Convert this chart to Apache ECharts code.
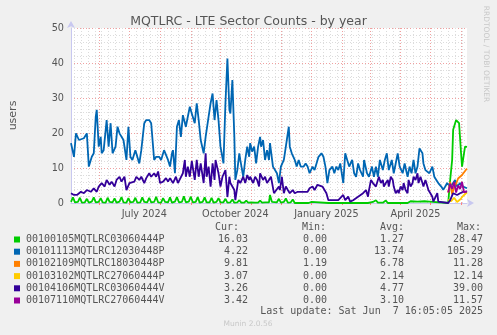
<!DOCTYPE html>
<html><head><meta charset="utf-8">
<script src="https://cdn.jsdelivr.net/npm/echarts@6/dist/echarts.min.js"></script>
<style>html,body{margin:0;padding:0;background:#f0f0f0;}#c{width:497px;height:335px;}</style>
</head><body><div id="c"></div>
<script>
// ---- data (x = day offset from 2024-05-03, y = users) ----
const startDate = [2024, 4, 3]; // 2024-05-03
const dayCount = 401;
const tickLabels = ['July 2024', 'October 2024', 'January 2025', 'April 2025'];
const tickLabelDates = ['2024-07-16', '2024-10-16', '2025-01-16', '2025-04-16'];
const seriesNames = ['00100105MQTLRC03060444P','00101113MQTLRC12030448P','00102109MQTLRC18030448P','00103102MQTLRC27060444P','00104106MQTLRC03060444V','00107110MQTLRC27060444V'];
const seriesColors = ['#00cc00','#0066b3','#ff8000','#ffcc00','#330099','#990099'];
const curVals = ['16.03','4.22','9.81','3.07','3.26','3.42'];
const minVals = ['0.00','0.00','1.19','0.00','0.00','0.00'];
const avgVals = ['1.27','13.74','6.78','2.14','4.77','3.10'];
const maxVals = ['28.47','105.29','11.28','12.14','39.00','11.57'];

const green = [[0,0.3],[2,1.6],[4,0.2],[7,0.3],[9,1.5],[11,0.1],[14,0.2],[16,1.2],[18,0.1],[21,0.4],[23,1.6],[25,0.2],[28,0.3],[30,1.4],[32,0.2],[35,0.1],[37,1.5],[39,0.3],[42,0.2],[44,1.3],[46,0.1],[49,0.4],[51,1.7],[53,0.2],[56,0.1],[58,1.4],[60,0.2],[63,0.3],[65,1.5],[67,0.1],[70,0.2],[72,1.6],[74,0.3],[77,0.2],[79,1.5],[81,0.2],[84,0.3],[86,1.8],[88,0.2],[91,0.1],[93,1.4],[95,0.3],[98,0.2],[100,1.6],[102,0.1],[105,0.4],[107,1.7],[109,0.2],[112,0.3],[114,1.9],[116,0.2],[119,0.4],[121,1.8],[123,0.2],[126,0.3],[128,1.7],[130,0.1],[133,0.3],[135,1.6],[137,0.2],[140,0.2],[142,1.5],[144,0.1],[147,0.3],[149,1.4],[151,0.2],[154,0.2],[156,1.2],[158,0.1],[161,0.2],[163,1.0],[165,0.1],[168,0.2],[170,0.8],[172,0.1],[175,0.1],[177,0.7],[179,0.1],[182,0.2],[184,0.6],[186,0.1],[189,0.1],[191,0.7],[193,0.1],[196,0.2],[198,0.6],[200,0.2],[201,2.3],[203,0.3],[205,0],[208,0.2],[210,1.2],[212,0.1],[215,0.3],[217,1.3],[219,0.1],[222,0.2],[224,1.0],[226,0],[240,0],[243,0.3],[245,0],[260,0],[262,0.4],[264,0],[300,0],[305,0.3],[308,0.8],[310,0.1],[312,0.6],[315,0.1],[318,0.7],[320,0],[340,0],[343,0.5],[345,0],[350,0.4],[352,0],[357,0.5],[359,0],[362,0.4],[364,0],[381,0],[383,6.6],[385,12.3],[386,20.9],[389,23.7],[391,23.9],[392,22.8],[394,14.2],[395,10.4],[396,12.3],[398,16.1],[400,16.03]];

const blue = [[0,17.1],[3,13.2],[5,19.9],[8,18],[13,18.5],[16,19.9],[18,10.4],[21,13.2],[23,14.2],[25,24.7],[26,26.6],[28,16.1],[30,18.9],[31,14.2],[33,15.1],[36,23.7],[38,16.1],[40,22.8],[42,14.2],[45,16.1],[47,21.8],[49,19.9],[51,19.9],[53,18],[56,12.3],[58,21.8],[60,13.2],[62,12.3],[65,15.1],[67,15.1],[69,11.3],[71,15.1],[74,22.8],[76,23.7],[79,23.7],[81,22.8],[84,12.3],[86,13.2],[89,13.2],[91,12.3],[94,15.1],[96,15.6],[98,12.3],[100,10.4],[102,14.2],[103,15.1],[105,8.5],[107,21.8],[109,23.7],[111,18.9],[113,25.1],[116,21.8],[120,27.5],[122,25.6],[125,22.8],[127,28.5],[129,23.7],[131,18],[134,14.2],[136,18.9],[139,24.7],[141,28.5],[143,31.3],[145,23.7],[147,29.4],[149,23.7],[151,16.1],[154,11.3],[156,28.5],[158,41.3],[160,26.6],[161,25.6],[163,35.1],[165,18.9],[166,6.6],[168,9.4],[170,14.2],[171,12.3],[174,7.5],[176,12.3],[178,16.1],[180,13.2],[181,17.1],[183,14.7],[185,16.1],[187,11.3],[189,16.1],[191,18.9],[192,16.1],[194,18],[196,12.3],[198,15.1],[200,12.3],[201,17.1],[204,10.4],[206,10.4],[208,8.5],[210,5.7],[212,10.4],[215,12.3],[216,14.2],[218,18],[220,21.8],[221,16.1],[223,14.2],[225,14.2],[226,12.3],[228,10.4],[230,12.3],[232,10.4],[235,10.4],[237,11.3],[239,10.4],[241,8.5],[244,10.4],[246,9.4],[248,11.3],[250,13.2],[253,14.2],[255,13.2],[257,10.4],[259,5.7],[261,9.4],[264,10.4],[266,8.5],[268,10.4],[270,9.4],[272,11.3],[275,5.7],[277,14.2],[279,12.3],[281,10.4],[284,12.3],[286,8.5],[288,7.5],[290,11.3],[292,9.4],[295,7.5],[296,12.3],[299,8.5],[301,7.5],[304,10.4],[306,7.5],[308,10.4],[310,7.5],[312,12.3],[315,9.4],[317,12.3],[319,14.2],[321,9.4],[324,12.3],[326,8.5],[328,11.3],[330,14.2],[332,10.4],[335,8.5],[337,11.3],[340,7.5],[342,10.4],[344,8.5],[346,12.3],[348,8.5],[350,10.4],[352,15.6],[355,14.2],[356,11.3],[358,9.4],[360,9.4],[362,8.5],[365,10.4],[367,7.5],[369,6.6],[371,5.7],[374,4.7],[376,3.8],[378,4.7],[380,5.7],[383,4.7],[386,5.7],[388,6.6],[390,4.7],[393,5.7],[396,4.7],[398,5.2],[400,4.22]];

const orange = [[381,3.0],[383,6.0],[385,2.5],[387,4.5],[389,5.5],[391,7.0],[393,7.5],[395,8.0],[397,8.5],[399,9.5],[400,9.81]];

const yellow = [[381,1.0],[384,0.5],[387,1.5],[390,0.3],[393,1.0],[396,2.0],[400,3.07]];

const purple = [[0,2.8],[3,2.3],[6,2.3],[10,3.2],[13,2.8],[16,3.7],[20,3.2],[23,4.2],[26,3.2],[28,4.7],[31,5.7],[34,4.7],[36,6.6],[39,5.2],[41,6.1],[44,4.7],[46,6.6],[49,7.5],[51,6.1],[54,7.5],[56,3.7],[59,5.7],[61,5.2],[64,6.1],[66,7.5],[69,6.6],[71,7.5],[74,5.7],[76,7.1],[79,8.5],[81,7.5],[84,8.5],[86,7.5],[88,9],[90,5.7],[93,6.1],[96,7.1],[98,6.1],[100,7.1],[103,5.7],[106,7.5],[108,5.7],[110,5.7],[113,8.5],[115,12.3],[116,7.5],[118,10.4],[120,7.5],[122,12],[125,6.6],[127,12.3],[129,7.5],[131,11.3],[134,5.7],[136,14.2],[137,7.5],[139,10.4],[141,4.7],[143,11.3],[145,6.6],[146,12.3],[149,8.5],[151,4.7],[153,7.5],[155,7.5],[156,9.4],[158,1.7],[160,7.5],[161,5.7],[163,5.7],[165,3.7],[166,0.8],[169,6.6],[171,5.7],[174,7.5],[176,5.7],[178,8],[180,6.6],[181,7.5],[184,5.7],[186,7.5],[188,6.6],[190,4.7],[191,8.5],[194,6.6],[196,7.5],[198,5.7],[200,6.6],[202,7.5],[205,2.8],[207,2.8],[210,4.7],[211,3.7],[213,7.5],[215,2.8],[217,4.7],[219,3.7],[221,2.8],[224,3.7],[226,2.8],[229,3.2],[231,2.8],[234,3.2],[236,3.7],[239,3.2],[241,4.2],[244,4.7],[246,3.7],[249,5.2],[251,5.2],[254,4.7],[256,4.7],[258,2.8],[260,0.8],[262,0.4],[265,0.8],[267,1.3],[270,0.8],[272,0.8],[275,2.3],[277,0.8],[280,1.8],[282,0.4],[285,0.8],[287,0.4],[290,1.8],[292,1.3],[295,2.8],[296,3.2],[298,3.7],[300,1.8],[301,3.7],[303,6.6],[305,5.7],[306,6.1],[308,4.7],[310,6.6],[311,7.5],[313,5.7],[315,6.6],[316,4.7],[318,5.7],[320,6.6],[321,4.7],[323,7.5],[325,6.6],[326,4.7],[328,2.8],[330,3.7],[331,2.8],[333,4.7],[335,3.7],[336,5.7],[338,3.7],[340,2.8],[341,6.6],[343,4.7],[345,5.7],[346,7.5],[348,6.6],[350,8.5],[351,5.7],[353,7.5],[355,5.7],[356,4.7],[358,6.6],[360,4.7],[361,3.7],[363,2.8],[365,1.8],[366,0.4],[368,0.8],[370,2.8],[371,0.4],[373,0],[381,0],[383,0.8],[386,2.8],[390,2.3],[393,2.8],[396,3.2],[400,3.26]];

const magenta = [[381,3.0],[383,5.5],[385,4.0],[387,6.0],[389,3.0],[391,5.0],[393,4.0],[395,6.0],[397,3.0],[400,3.42]];

// ---- build categories (one per day) ----
function pad(n){return n<10?'0'+n:''+n;}
const dates = [];
for (let i = 0; i < dayCount; i++) {
  const d = new Date(Date.UTC(startDate[0], startDate[1], startDate[2] + i));
  dates.push(d.getUTCFullYear() + '-' + pad(d.getUTCMonth()+1) + '-' + pad(d.getUTCDate()));
}
const labelOf = {};
tickLabelDates.forEach((d, i) => { labelOf[d] = tickLabels[i]; });
const isMonthStart = (i, v) => v.slice(8) === '01';
const isWeek = (i, v) => new Date(v + 'T00:00:00Z').getUTCDay() === 1;

const allData = [green, blue, orange, yellow, purple, magenta];
const chart = echarts.init(document.getElementById('c'), null, {renderer: 'canvas'});

const font = 'DejaVu Sans';
const mono = 'DejaVu Sans Mono';
const txt = '#555555';
const gleft = 67, gtop = 28, gw = 400, gh = 175;

const graphics = [];
// vertical watermark
graphics.push({type:'text', x:486, y:54, rotation:-Math.PI/2,
  style:{text:'RRDTOOL / TOBI OETIKER', font:'7.5px ' + font, fill:'#c8c8c8', textAlign:'center', textVerticalAlign:'middle'}});
// legend header
const colEnds = [239, 326, 404, 481];
['Cur:','Min:','Avg:','Max:'].forEach((h, i) => {
  graphics.push({type:'text', x:colEnds[i], y:227, style:{text:h, font:'10px ' + mono, fill:txt, textAlign:'right', textVerticalAlign:'middle'}});
});
const rowY = [239.5, 251.7, 263.9, 276.1, 288.3, 300.5];
seriesNames.forEach((n, i) => {
  const y = rowY[i];
  graphics.push({type:'rect', shape:{x:14, y:y-3, width:6, height:6}, style:{fill:seriesColors[i]}});
  graphics.push({type:'text', x:26, y:y, style:{text:n, font:'10px ' + mono, fill:txt, textVerticalAlign:'middle'}});
  [curVals[i], minVals[i], avgVals[i], maxVals[i]].forEach((v, j) => {
    const endX = [248, 327, 404, 483][j];
    graphics.push({type:'text', x:endX, y:y, style:{text:v, font:'10px ' + mono, fill:txt, textAlign:'right', textVerticalAlign:'middle'}});
  });
});
graphics.push({type:'text', x:483, y:311.7, style:{text:'Last update: Sat Jun  7 16:05:05 2025', font:'10px ' + mono, fill:txt, textAlign:'right', textVerticalAlign:'middle'}});
graphics.push({type:'text', x:248, y:324, style:{text:'Munin 2.0.56', font:'7.5px ' + font, fill:'#c8c8c8', textAlign:'center', textVerticalAlign:'middle'}});

const option = {
  backgroundColor: '#f0f0f0',
  animation: false,
  title: {text:'MQTLRC - LTE Sector Counts - by year', left:'center', top:10,
    textStyle:{fontFamily:font, fontSize:12.5, fontWeight:'normal', color:txt}},
  grid: {left:gleft, top:gtop, width:gw, height:gh, show:true, backgroundColor:'#ffffff', borderWidth:0},
  xAxis: [{
    type:'category', data:dates, boundaryGap:false,
    axisLine:{show:true, lineStyle:{color:'#c8c8f0', width:1}, symbol:['none','arrow'], symbolSize:[6,7], symbolOffset:[0,7]},
    axisTick:{show:true, interval:isMonthStart, length:2, inside:false, lineStyle:{color:'#ff8080'}},
    axisLabel:{show:true, interval:(i,v)=>!!labelOf[v], formatter:(v)=>labelOf[v]||'', fontFamily:font, fontSize:9.7, color:txt, margin:6},
    splitLine:{show:true, interval:isMonthStart, lineStyle:{color:'#f0a0a0', type:[1,2], width:1}},
    z: 3
  },{
    type:'category', data:dates, boundaryGap:false, position:'bottom',
    axisLine:{show:false}, axisTick:{show:false}, axisLabel:{show:false},
    splitLine:{show:true, interval:isWeek, lineStyle:{color:'#dcdcdc', type:[1,2], width:1}}
  }],
  yAxis: {
    type:'value', min:0, max:50, interval:10,
    name:'users', nameLocation:'middle', nameGap:52, nameRotate:90,
    nameTextStyle:{fontFamily:font, fontSize:11, color:txt},
    axisLine:{show:true, lineStyle:{color:'#c8c8f0'}, symbol:['none','arrow'], symbolSize:[6,7], symbolOffset:[0,7]},
    axisTick:{show:false},
    axisLabel:{fontFamily:font, fontSize:9.7, color:txt, margin:7},
    splitLine:{show:true, lineStyle:{color:'#f0a0a0', type:[1,2], width:1}},
    minorTick:{show:false, splitNumber:5},
    minorSplitLine:{show:true, lineStyle:{color:'#dcdcdc', type:[1,2], width:1}}
  },
  series: allData.map((d, i) => ({
    name: seriesNames[i], type:'line', data:d, xAxisIndex:0, showSymbol:false, symbol:'none',
    lineStyle:{color:seriesColors[i], width:1.8}, itemStyle:{color:seriesColors[i]}, z: 5 + i, clip:true
  })),
  graphic: graphics
};
chart.setOption(option);
</script>
</body></html>
